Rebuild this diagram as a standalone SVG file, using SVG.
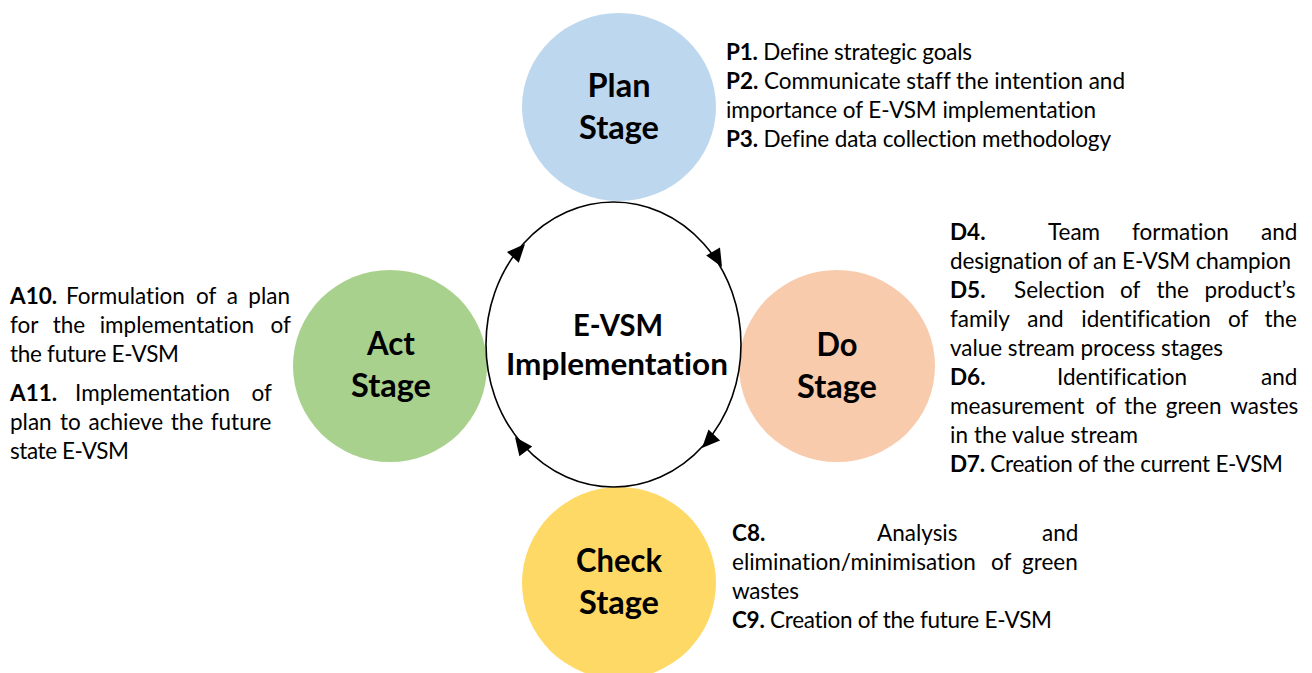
<svg xmlns="http://www.w3.org/2000/svg" width="1312" height="673" viewBox="0 0 1312 673">
<style>
text{font-variant-ligatures:none;font-feature-settings:"liga" 0,"clig" 0}
.t{font-family:Lato,"Open Sans","Liberation Sans",sans-serif;font-size:22.5px;fill:#000}
.b{font-weight:bold}
.lbl{font-family:Lato,"Open Sans","Liberation Sans",sans-serif;font-size:31.5px;font-weight:bold;fill:#000;text-anchor:middle}
.ctr{font-family:Lato,"Open Sans","Liberation Sans",sans-serif;font-size:30px;font-weight:bold;fill:#000;text-anchor:middle}
.arr{fill:#000}
</style>
<rect width="1312" height="673" fill="#fff"/>

<g id="node-plan">
<ellipse cx="619" cy="107" rx="97" ry="94" fill="#BDD7EE"/>
<text class="lbl" x="619" y="97" textLength="63" lengthAdjust="spacingAndGlyphs">Plan</text>
<text class="lbl" x="619" y="139" textLength="80" lengthAdjust="spacingAndGlyphs">Stage</text>
<text class="t" x="726" y="60" textLength="246" lengthAdjust="spacing"><tspan class="b">P1.</tspan> Define strategic goals</text>
<text class="t" x="726" y="89" textLength="399" lengthAdjust="spacing"><tspan class="b">P2.</tspan> Communicate staff the intention and</text>
<text class="t" x="726" y="118" textLength="370" lengthAdjust="spacing">importance of E-VSM implementation</text>
<text class="t" x="726" y="147" textLength="385" lengthAdjust="spacing"><tspan class="b">P3.</tspan> Define data collection methodology</text>
</g>

<g id="node-do">
<ellipse cx="837" cy="366" rx="98" ry="96" fill="#F8CBAD"/>
<text class="lbl" x="837" y="356" textLength="41" lengthAdjust="spacingAndGlyphs">Do</text>
<text class="lbl" x="837" y="398" textLength="80" lengthAdjust="spacingAndGlyphs">Stage</text>
<text class="t" y="240"><tspan class="b" x="950">D4.</tspan><tspan x="1048">Team</tspan><tspan x="1132">formation</tspan><tspan x="1261">and</tspan></text>
<text class="t" x="950" y="269" textLength="341" lengthAdjust="spacing">designation of an E-VSM champion</text>
<text class="t" y="298"><tspan class="b" x="950">D5.</tspan><tspan x="1014">Selection</tspan><tspan x="1120">of</tspan><tspan x="1156.5">the</tspan><tspan x="1204.5">product’s</tspan></text>
<text class="t" y="327"><tspan x="950">family</tspan><tspan x="1027.3">and</tspan><tspan x="1081.3">identification</tspan><tspan x="1228.1">of</tspan><tspan x="1264.4">the</tspan></text>
<text class="t" x="950" y="356" textLength="273" lengthAdjust="spacing">value stream process stages</text>
<text class="t" y="385"><tspan class="b" x="950">D6.</tspan><tspan x="1057">Identification</tspan><tspan x="1261">and</tspan></text>
<text class="t" y="414"><tspan x="950">measurement</tspan><tspan x="1095.5">of</tspan><tspan x="1124.3">the</tspan><tspan x="1165.7">green</tspan><tspan x="1230.2">wastes</tspan></text>
<text class="t" x="950" y="443" textLength="188" lengthAdjust="spacing">in the value stream</text>
<text class="t" x="950" y="472" textLength="333" lengthAdjust="spacing"><tspan class="b">D7.</tspan> Creation of the current E-VSM</text>
</g>

<g id="node-check">
<ellipse cx="619" cy="583" rx="97" ry="96" fill="#FFD966"/>
<text class="lbl" x="619" y="572" textLength="86" lengthAdjust="spacingAndGlyphs">Check</text>
<text class="lbl" x="619" y="614" textLength="80" lengthAdjust="spacingAndGlyphs">Stage</text>
<text class="t" y="541"><tspan class="b" x="732">C8.</tspan><tspan x="877">Analysis</tspan><tspan x="1042">and</tspan></text>
<text class="t" y="570"><tspan x="732">elimination/minimisation</tspan><tspan x="991">of</tspan><tspan x="1022">green</tspan></text>
<text class="t" x="732" y="599" textLength="67" lengthAdjust="spacing">wastes</text>
<text class="t" x="732" y="628" textLength="320" lengthAdjust="spacing"><tspan class="b">C9.</tspan> Creation of the future E-VSM</text>
</g>

<g id="node-act">
<ellipse cx="390" cy="366" rx="97" ry="96" fill="#A9D18E"/>
<text class="lbl" x="391" y="355" textLength="48" lengthAdjust="spacingAndGlyphs">Act</text>
<text class="lbl" x="391" y="397" textLength="80" lengthAdjust="spacingAndGlyphs">Stage</text>
<text class="t" y="304"><tspan class="b" x="10">A10.</tspan><tspan x="66">Formulation</tspan><tspan x="196">of</tspan><tspan x="226.7">a</tspan><tspan x="248.3">plan</tspan></text>
<text class="t" y="333"><tspan x="10">for</tspan><tspan x="52.7">the</tspan><tspan x="99.7">implementation</tspan><tspan x="270.5">of</tspan></text>
<text class="t" x="10" y="362" textLength="169" lengthAdjust="spacing">the future E-VSM</text>
<text class="t" y="401"><tspan class="b" x="10">A11.</tspan><tspan x="75">Implementation</tspan><tspan x="251.5">of</tspan></text>
<text class="t" y="430"><tspan x="10">plan</tspan><tspan x="60">to</tspan><tspan x="88.5">achieve</tspan><tspan x="170.8">the</tspan><tspan x="210.7">future</tspan></text>
<text class="t" x="10" y="459" textLength="119" lengthAdjust="spacing">state E-VSM</text>
</g>

<g id="node-center">
<ellipse cx="613.5" cy="344.5" rx="127.5" ry="142.5" fill="#fff"/>
<text class="ctr" x="618" y="336" textLength="90" lengthAdjust="spacingAndGlyphs">E-VSM</text>
<text class="ctr" x="617" y="375" textLength="222" lengthAdjust="spacingAndGlyphs">Implementation</text>
</g>

<g id="connectors">
<ellipse cx="613.5" cy="344.5" rx="127.5" ry="142.5" fill="none" stroke="#000" stroke-width="1.6"/>
<polygon class="arr" points="525,244 518.8,262.7 507,251.9"/>
<polygon class="arr" points="722,267 706.2,255.4 720,247.4"/>
<polygon class="arr" points="702,448 708.5,429.4 720.1,440.4"/>
<polygon class="arr" points="515,437 532.2,446.6 519.4,456.2"/>
</g>
</svg>
